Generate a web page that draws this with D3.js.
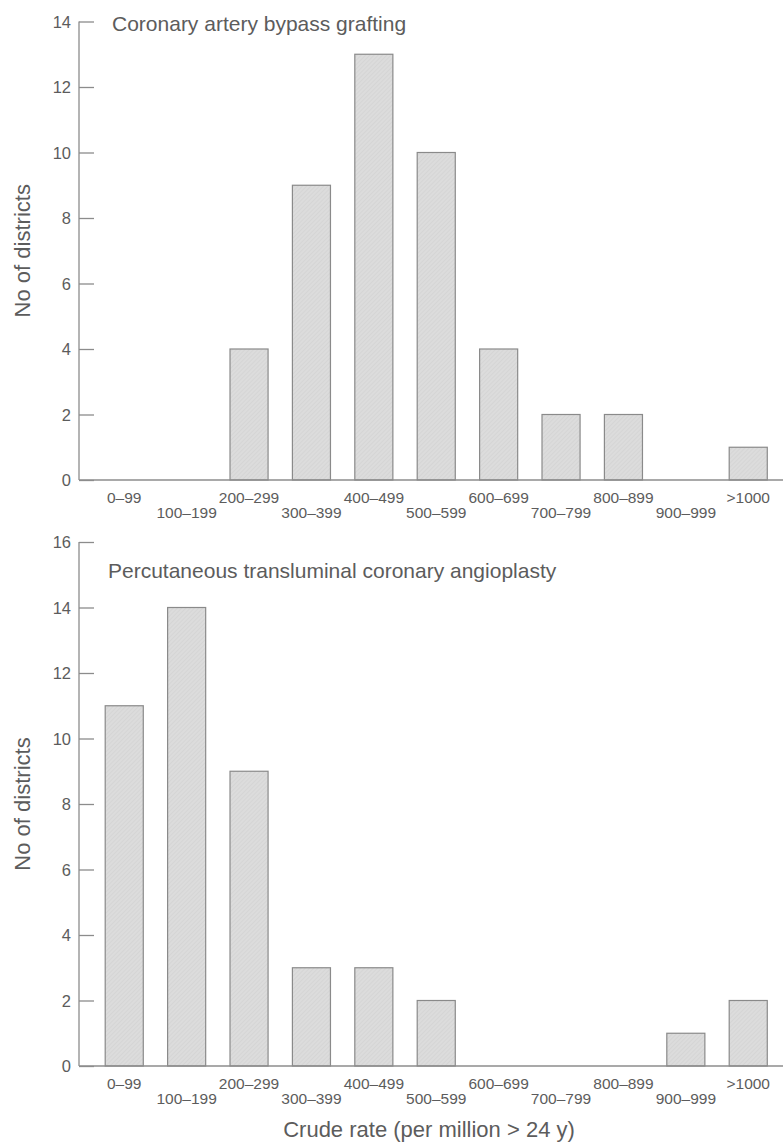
<!DOCTYPE html>
<html>
<head>
<meta charset="utf-8">
<script src="https://cdn.jsdelivr.net/npm/d3@7"></script>
<style>
  body { margin: 0; background: #fff; }
  svg text { font-family: "Liberation Sans", Arial, sans-serif; fill: #5c5c5c; }
</style>
</head>
<body>
<svg id="chart" width="783" height="1142"></svg>
<script>
// rate bands, shared by both panels
const categories = ["0\u201399", "100\u2013199", "200\u2013299", "300\u2013399", "400\u2013499",
    "500\u2013599", "600\u2013699", "700\u2013799", "800\u2013899", "900\u2013999", ">1000"];

const cabgValues = [0, 0, 4, 9, 13, 10, 4, 2, 2, 0, 1];
const ptcaValues = [11, 14, 9, 3, 3, 2, 0, 0, 0, 1, 2];

const cabgTicks = [0, 2, 4, 6, 8, 10, 12, 14];
const ptcaTicks = [0, 2, 4, 6, 8, 10, 12, 14, 16];

const cabgTitle = "Coronary artery bypass grafting";
const ptcaTitle = "Percutaneous transluminal coronary angioplasty";
const yTitle = "No of districts";
const xTitle = "Crude rate (per million > 24 y)";

const svg = d3.select("#chart");
const W = 783;
const axisX = 79;

// faint hatch like the printed shading
const pat = svg.append("defs").append("pattern")
    .attr("id", "hatch")
    .attr("patternUnits", "userSpaceOnUse")
    .attr("width", 3).attr("height", 3)
    .attr("patternTransform", "rotate(45)");
pat.append("rect").attr("width", 3).attr("height", 3).attr("fill", "#dcdcdc");
pat.append("line").attr("x1", 0).attr("y1", 0).attr("x2", 0).attr("y2", 3)
    .attr("stroke", "#cecece").attr("stroke-width", 1);

const x = d3.scaleBand()
    .domain(categories)
    .range([axisX, axisX + 62.4 * (11 - 0.39 + 0.84)])
    .paddingInner(0.39)
    .paddingOuter(0.42);

function panel(values, ticks, yTop, yZero, title, titleY) {
    const g = svg.append("g");
    const y = d3.scaleLinear()
        .domain([0, d3.max(ticks)])
        .range([yZero, yTop]);

    // y axis with inward ticks
    const yAxis = d3.axisRight(y)
        .tickValues(ticks)
        .tickSize(15)
        .tickFormat("");
    const ya = g.append("g")
        .attr("transform", `translate(${axisX},0)`)
        .call(yAxis);
    ya.select(".domain").remove();
    ya.selectAll(".tick line").attr("stroke", "#8c8c8c").attr("stroke-width", 1.3);
    g.append("line")
        .attr("x1", axisX).attr("x2", axisX)
        .attr("y1", y(0)).attr("y2", y(d3.max(ticks)))
        .attr("stroke", "#8c8c8c").attr("stroke-width", 1.3);

    g.selectAll("text.ytick")
        .data(ticks)
        .join("text")
        .attr("class", "ytick")
        .attr("x", axisX - 8)
        .attr("y", d => y(d) + 6)
        .attr("text-anchor", "end")
        .style("font-size", "16.5px")
        .text(d => d);

    // bars
    g.selectAll("rect.bar")
        .data(values.map((v, i) => ({ cat: categories[i], v: v })).filter(d => d.v > 0))
        .join("rect")
        .attr("class", "bar")
        .attr("x", d => x(d.cat))
        .attr("width", x.bandwidth())
        .attr("y", d => y(d.v))
        .attr("height", d => y(0) - y(d.v))
        .attr("fill", "url(#hatch)")
        .attr("stroke", "#8a8a8a")
        .attr("stroke-width", 1.2);

    // baseline
    g.append("line")
        .attr("x1", axisX).attr("x2", W)
        .attr("y1", y(0)).attr("y2", y(0))
        .attr("stroke", "#8c8c8c").attr("stroke-width", 1.3);

    // staggered category labels
    g.selectAll("text.xlab")
        .data(categories)
        .join("text")
        .attr("class", "xlab")
        .attr("x", d => x(d) + x.bandwidth() / 2)
        .attr("y", (d, i) => y(0) + (i % 2 == 0 ? 23 : 38))
        .attr("text-anchor", "middle")
        .style("font-size", "15.5px")
        .text(d => d);

    g.append("text")
        .attr("x", title == cabgTitle ? 112 : 108)
        .attr("y", titleY)
        .style("font-size", "21px")
        .text(title);

    g.append("text")
        .attr("transform", `translate(30,${(yZero + yTop) / 2}) rotate(-90)`)
        .attr("text-anchor", "middle")
        .style("font-size", "22px")
        .text(yTitle);
}

panel(cabgValues, cabgTicks, 21.5, 480, cabgTitle, 31);
panel(ptcaValues, ptcaTicks, 542, 1066, ptcaTitle, 578);

svg.append("text")
    .attr("x", 429)
    .attr("y", 1137)
    .attr("text-anchor", "middle")
    .style("font-size", "22px")
    .text(xTitle);
</script>
</body>
</html>
